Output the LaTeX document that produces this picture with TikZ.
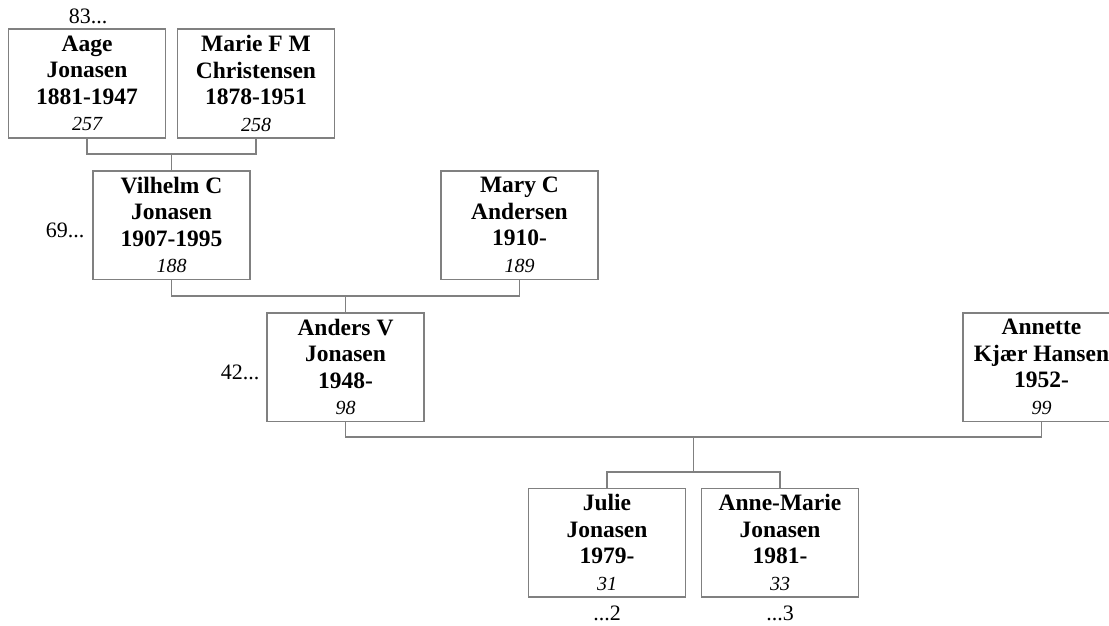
\documentclass[tikz,border=0pt]{standalone}
\usepackage{fontspec}
\setmainfont{Liberation Serif}
\usepackage{tikz}
\definecolor{boxgray}{RGB}{128,128,128}
\newcommand{\pnum}[1]{{\fontsize{20}{22}\selectfont\mdseries\itshape #1}}

\begin{document}
\begin{tikzpicture}[x=1pt,y=-1pt,
  person/.style={rectangle,draw=boxgray,line width=1.5pt,minimum width=157pt,minimum height=108.5pt,inner sep=0pt,align=center,font=\fontsize{23.5}{26.5}\selectfont\bfseries},
  link/.style={boxgray,line width=1.5pt},
  more/.style={font=\fontsize{22}{24}\selectfont,inner sep=1pt}]

\clip (0,0) rectangle (1109,626);

\node (aj) [person] at (87,83.5) {Aage\\Jonasen\\1881-1947\\\pnum{257}};
\node (mf) [person] at (256,83.5) {Marie F M\\Christensen\\1878-1951\\\pnum{258}};

\node (vj) [person] at (171.5,225) {Vilhelm C\\Jonasen\\1907-1995\\\pnum{188}};
\node (ma) [person] at (519.5,225) {Mary C\\Andersen\\1910-\\\pnum{189}};

\node (av) [person] at (345.5,367) {Anders V\\Jonasen\\1948-\\\pnum{98}};
\node (ak) [person] at (1041.5,367) {Annette\\Kjær Hansen\\1952-\\\pnum{99}};

\node (jj) [person] at (607,542.5) {Julie\\Jonasen\\1979-\\\pnum{31}};
\node (amj) [person] at (780,542.5) {Anne-Marie\\Jonasen\\1981-\\\pnum{33}};

\node (r83) [more] at (88,16) {83...};
\node (r69) [more] at (65,230) {69...};
\node (r42) [more] at (240,372) {42...};
\node (d2) [more] at (607,613) {...2};
\node (d3) [more] at (780,613) {...3};

\coordinate (m1) at (171.5,154);
\coordinate (m2) at (345.5,296);
\coordinate (m3) at (693.5,437);
\coordinate (m4) at (693.5,472);

\draw[link] (aj.south) |- (m1) -| (mf.south);
\draw[link] (m1) -- (vj.north);
\draw[link] (vj.south) |- (m2) -| (ma.south);
\draw[link] (m2) -- (av.north);
\draw[link] (av.south) |- (m3) -| (ak.south);
\draw[link] (m3) -- (m4);
\draw[link] (jj.north) |- (m4) -| (amj.north);

\end{tikzpicture}
\end{document}
